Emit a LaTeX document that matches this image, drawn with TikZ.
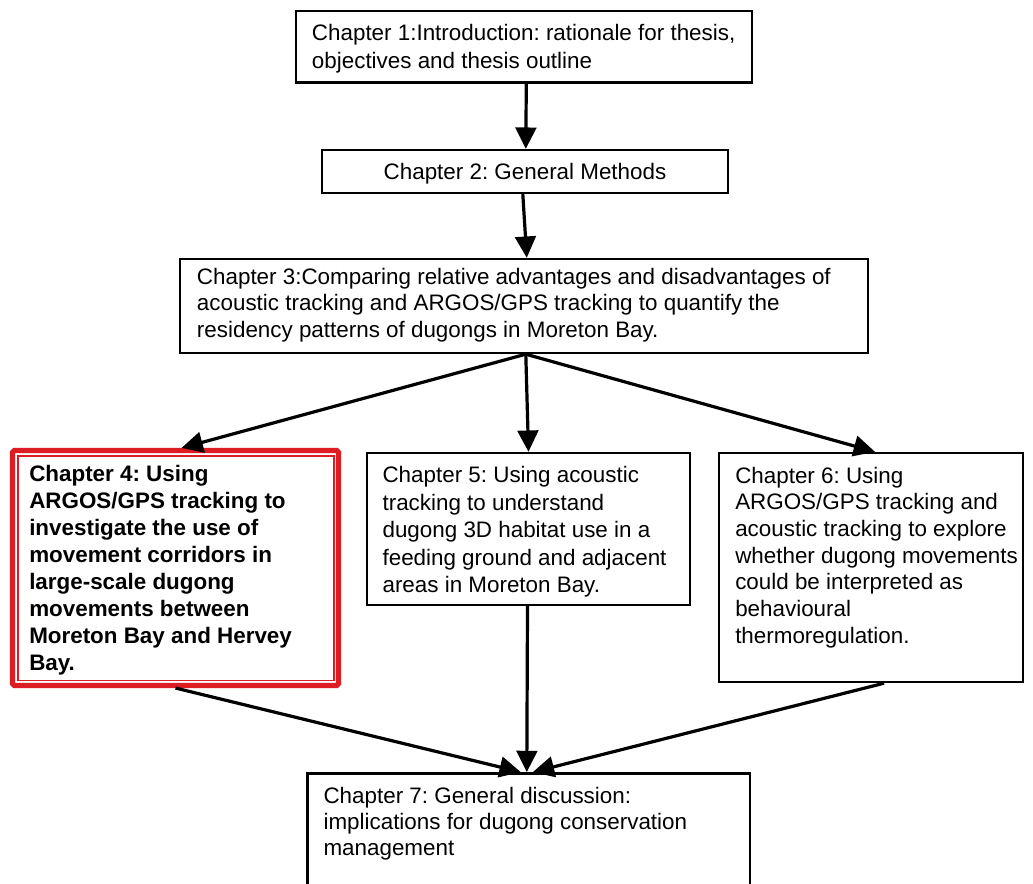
\documentclass[tikz,border=0pt]{standalone}
\usepackage{fontspec}
\setmainfont{Liberation Sans}
\usetikzlibrary{arrows.meta,fit}
\definecolor{framered}{RGB}{222,28,36}
\frenchspacing
\begin{document}
\begin{tikzpicture}[x=0.75pt,y=-0.75pt,
  box/.style={draw=black,line width=1.8pt,fill=white,inner sep=0pt},
  redbox/.style={draw=framered,line width=3.8pt,rounded corners=1.2pt,inner sep=0pt},
  label/.style={inner sep=0pt,anchor=base west,align=left,
    font=\fontsize{16.8}{20.2}\selectfont},
  flow/.style={line width=2.4pt,-{Triangle[length=16pt,width=15.5pt]}}]
\clip (0,0) rectangle (1033,883);
\fill[white] (0,0) rectangle (1033,883);

% chapter boxes
\node[box,fit={(296,10.7) (751.7,82.3)}] (c1) {};
\node[box,fit={(322,150) (728,193)}] (c2) {};
\node[box,fit={(180,259) (868,353)}] (c3) {};
\node[redbox,fit={(12.5,450.5) (338.5,685.5)}] (c4) {};
\draw[framered,line width=1.1pt] (17.8,456) rectangle (333.8,680.6);
\node[box,fit={(367,453) (690,605)}] (c5) {};
\node[box,fit={(719,453) (1023,682)}] (c6) {};
\node[box,fit={(307.5,773.3) (750,900)}] (c7) {};

% chapter texts (each placed by the baseline of its last line)
\node[label,font=\fontsize{16.8}{21.2}\selectfont] (t1) at (311.7,68.3)
  {Chapter 1:Introduction: rationale for thesis,\\objectives and thesis outline};
\node[label,anchor=base] (t2) at (525,179) {Chapter 2: General Methods};
\node[label,font=\fontsize{16.8}{19.8}\selectfont] (t3) at (196.7,337)
  {Chapter 3:Comparing relative advantages and disadvantages of\\
   acoustic tracking and ARGOS/GPS tracking to quantify the\\
   residency patterns of dugongs in Moreton Bay.};
\node[label,font=\fontsize{16.8}{20.2}\selectfont\bfseries] (t4) at (29,670)
  {Chapter 4: Using\\ARGOS/GPS tracking to\\investigate the use of\\
   movement corridors in\\large-scale dugong\\movements between\\
   Moreton Bay and Hervey\\Bay.};
\node[label,font=\fontsize{16.8}{20.6}\selectfont] (t5) at (382.3,592.5)
  {Chapter 5: Using acoustic\\tracking to understand\\dugong 3D habitat use in a\\
   feeding ground and adjacent\\areas in Moreton Bay.};
\node[label,font=\fontsize{16.8}{20}\selectfont] (t6) at (735,643.3)
  {Chapter 6: Using\\ARGOS/GPS tracking and\\acoustic tracking to explore\\
   whether dugong movements\\could be interpreted as\\behavioural\\
   thermoregulation.};
\node[label,font=\fontsize{16.8}{19.5}\selectfont] (t7) at (323.3,855)
  {Chapter 7: General discussion:\\implications for dugong conservation\\management};

% connectors
\draw[flow] ([xshift=231.5*0.75pt]c1.south west) -- ([xshift=205*0.75pt]c2.north west);
\draw[flow] ([xshift=202*0.75pt]c2.south west) -- ([xshift=348*0.75pt]c3.north west);
\draw[flow] ([xshift=347*0.75pt]c3.south west) -- ([xshift=6*0.75pt]c4.north);
\draw[flow] ([xshift=347*0.75pt]c3.south west) -- (c5.north);
\draw[flow] ([xshift=347*0.75pt]c3.south west) -- ([xshift=4*0.75pt]c6.north);
\draw[flow] (c4.south) -- ([xshift=214.5*0.75pt]c7.north west);
\draw[flow] ([xshift=-1*0.75pt]c5.south) -- ([xshift=220.5*0.75pt]c7.north west);
\draw[flow] ([xshift=13*0.75pt]c6.south) -- ([xshift=226.5*0.75pt]c7.north west);
\end{tikzpicture}
\end{document}
